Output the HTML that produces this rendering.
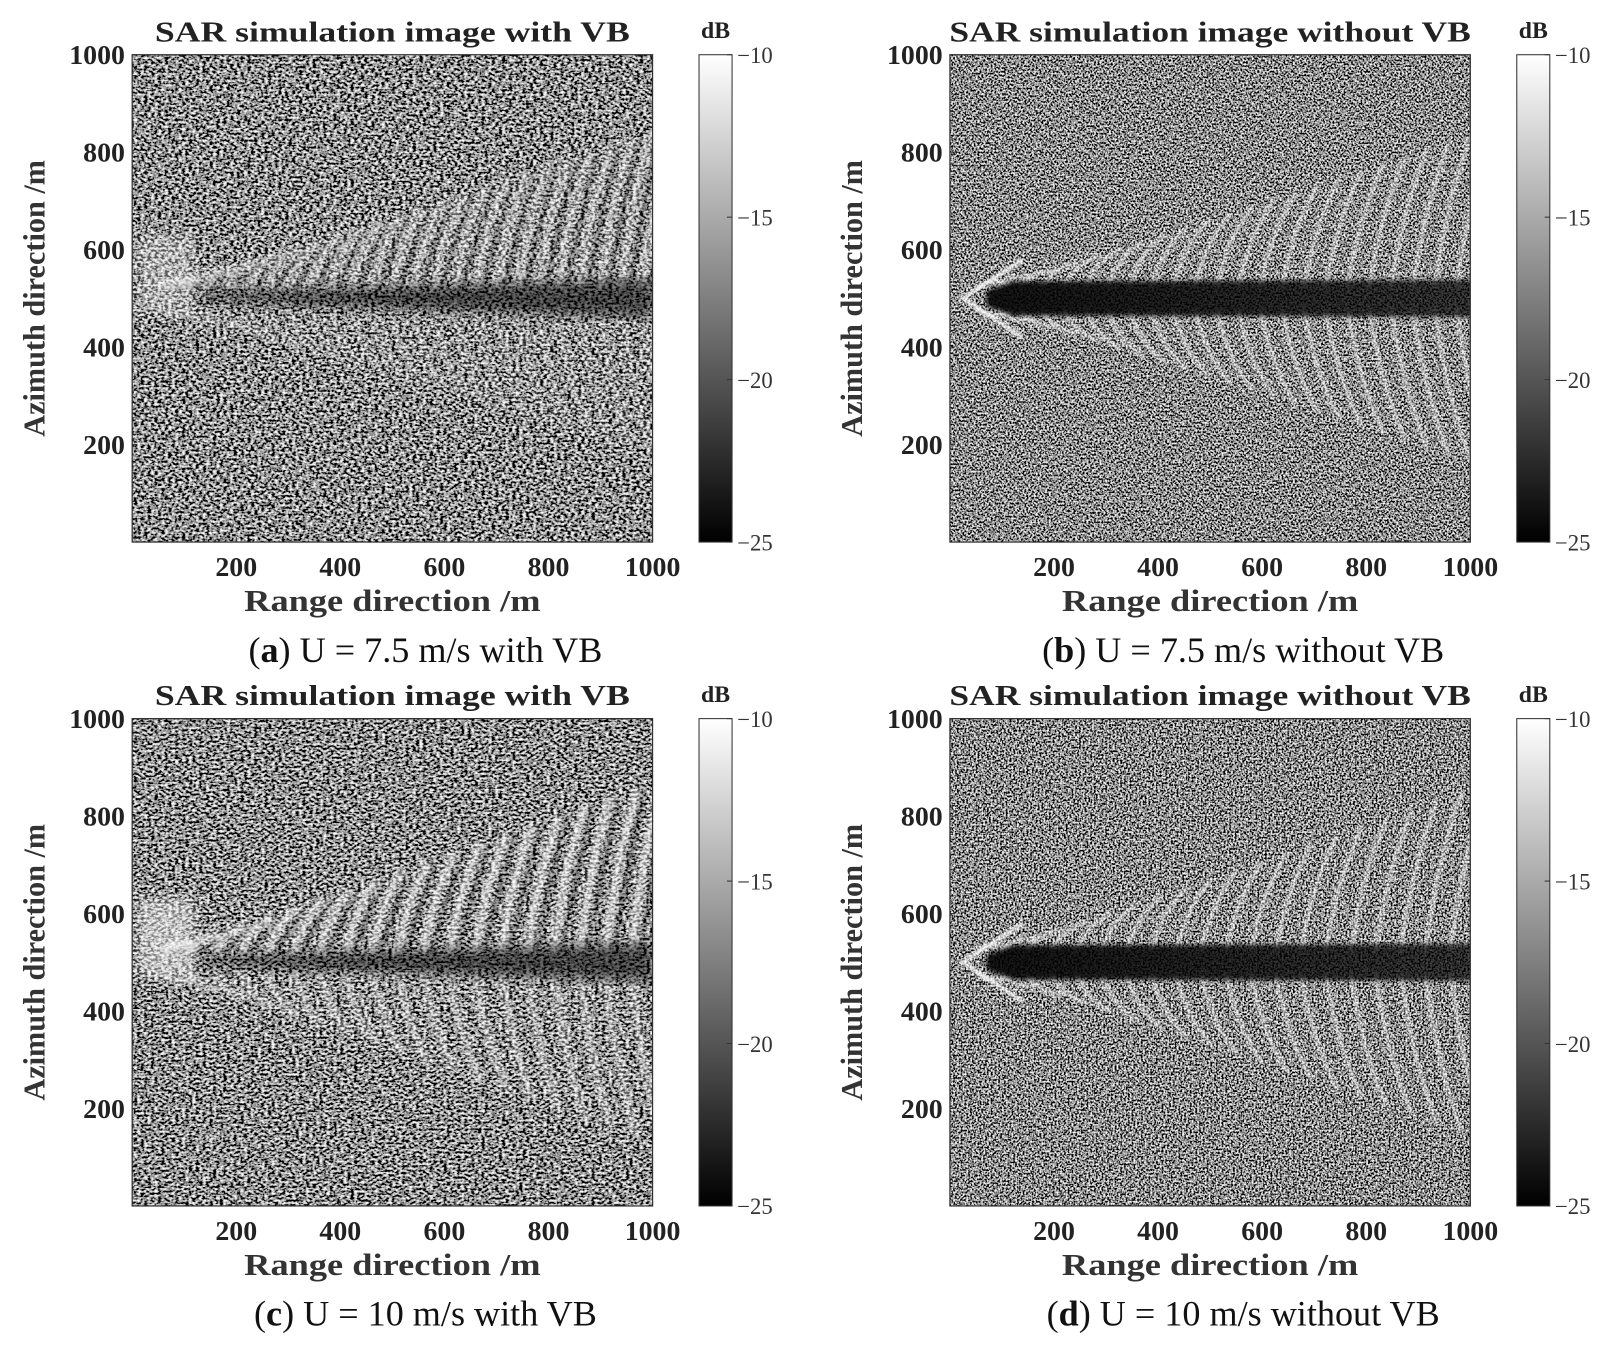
<!DOCTYPE html>
<html><head><meta charset="utf-8"><style>html,body{margin:0;padding:0;background:#fff}svg{display:block}</style></head>
<body>
<svg id="s" xmlns="http://www.w3.org/2000/svg" width="1619" height="1350" viewBox="0 0 1568 1307.5">
<defs>
<linearGradient id="cb" x1="0" y1="1" x2="0" y2="0"><stop offset="0" stop-color="#000"/><stop offset="1" stop-color="#fff"/></linearGradient>
<linearGradient id="bandg" x1="0" y1="0" x2="1" y2="0"><stop offset="0" stop-color="#000" stop-opacity="0.9"/><stop offset="1" stop-color="#000" stop-opacity="0.7"/></linearGradient>
<filter id="bl1" x="-10%" y="-10%" width="120%" height="120%"><feGaussianBlur stdDeviation="2.2"/></filter>
<filter id="bl2" x="-10%" y="-10%" width="120%" height="120%"><feGaussianBlur stdDeviation="1.2"/></filter>
<filter id="bl3" x="-10%" y="-10%" width="120%" height="120%"><feGaussianBlur stdDeviation="6"/></filter>
<filter id="bl4" x="-10%" y="-50%" width="120%" height="200%"><feGaussianBlur stdDeviation="2"/></filter>
</defs>
<g id="root" font-family="Liberation Serif, serif"></g>
</svg>
<script>
var NS="http://www.w3.org/2000/svg",root=document.getElementById('root'),defs=document.querySelector('defs');
function el(t,a,p){var e=document.createElementNS(NS,t);for(var k in a)e.setAttribute(k,a[k]);(p||root).appendChild(e);return e;}
function txt(s,a,p){var e=el('text',a,p);e.textContent=s;return e;}
var panels=[
 {ox:0,oy:0,t:'SAR simulation image with VB',tl:460,cap:['a',') U = 7.5 m/s with VB'],vb:true,amp:1,seed:3,ue:850,le:170},
 {ox:792,oy:0,t:'SAR simulation image without VB',tl:505,cap:['b',') U = 7.5 m/s without VB'],vb:false,amp:1,seed:7,ue:850,le:150},
 {ox:0,oy:643,t:'SAR simulation image with VB',tl:460,cap:['c',') U = 10 m/s with VB'],vb:true,amp:1.4,seed:11,ue:880,le:120},
 {ox:792,oy:643,t:'SAR simulation image without VB',tl:505,cap:['d',') U = 10 m/s without VB'],vb:false,amp:1.2,seed:17,ue:870,le:130}
];
panels.forEach(function(P,i){
 var L=128+P.ox,T=53+P.oy,W=504,H=472;
 function X(m){return L+m*W/1000;} function Y(m){return T+H-m*H/1000;}
 var f=el('filter',{id:'n'+i,filterUnits:'userSpaceOnUse',x:L,y:T,width:W,height:H},defs);
 el('feTurbulence',{type:'fractalNoise',baseFrequency:P.vb?'0.3 0.45':'0.55',numOctaves:'2',seed:P.seed},f);
 var k=P.vb?2.6:2.8, off=(0.3-k*0.5).toFixed(3);
 el('feColorMatrix',{type:'matrix',values:k+' 0 0 0 '+off+' '+k+' 0 0 0 '+off+' '+k+' 0 0 0 '+off+' 0 0 0 0 1'},f);
 var cp=el('clipPath',{id:'c'+i},defs);el('rect',{x:L,y:T,width:W,height:H},cp);
 var g=el('g',{'clip-path':'url(#c'+i+')'});
 el('rect',{x:L,y:T,width:W,height:H,fill:'#333'},g);
 el('rect',{x:L,y:T,width:W,height:H,filter:'url(#n'+i+')'},g);
 var sg=el('g',{filter:P.vb?'url(#bl1)':'url(#bl2)'},g);
 var x0=P.vb?40:30,step=P.vb?(P.amp>1?50:40):(P.amp>1?48:42);
 for(var xm=x0+20;xm<1000;xm+=step){
  var fr=xm/1000, ut=500+(P.ue-500)*Math.min(1,fr+0.03), lt=500-(500-P.le)*Math.min(1,fr+0.03);
  var dx=P.vb?60:70;
  var ou=P.vb?0.45*P.amp:0.5, ol=P.vb?0.3*P.amp:0.5;
  if(P.vb&&P.amp==1)ol=0.22;
  el('path',{d:'M'+X(xm)+' '+Y(520)+' Q'+X(xm+dx*0.3)+' '+Y((520+ut)/2+20)+' '+X(xm+dx)+' '+Y(ut),stroke:'#fff','stroke-opacity':Math.min(ou,0.8),'stroke-width':P.vb?7:4,fill:'none'},sg);
  el('path',{d:'M'+X(xm)+' '+Y(480)+' Q'+X(xm+dx*0.3)+' '+Y((480+lt)/2-20)+' '+X(xm+dx)+' '+Y(lt),stroke:'#fff','stroke-opacity':Math.min(ol,0.8),'stroke-width':P.vb?7:4,fill:'none'},sg);
  if(P.vb){
   el('path',{d:'M'+X(xm+12)+' '+Y(520)+' L'+X(xm+dx+12)+' '+Y(ut),stroke:'#000','stroke-opacity':0.35,'stroke-width':5,fill:'none'},sg);
  }
 }
 if(!P.vb){
  el('path',{d:'M'+X(140)+' '+Y(580)+' L'+X(25)+' '+Y(500)+' L'+X(140)+' '+Y(420),stroke:'#fff','stroke-opacity':0.8,'stroke-width':4,fill:'none'},sg);
  el('path',{d:'M'+X(70)+' '+Y(515)+' L'+X(120)+' '+Y(535)+' L'+X(1005)+' '+Y(538)+' L'+X(1005)+' '+Y(462)+' L'+X(120)+' '+Y(465)+' L'+X(70)+' '+Y(485)+' Z',fill:'url(#bandg)',filter:'url(#bl4)'},g);
 } else {
  el('rect',{x:X(10),y:Y(630),width:X(120)-X(10),height:Y(470)-Y(630),fill:'#fff',opacity:0.35*P.amp,filter:'url(#bl3)'},g);
  el('path',{d:'M'+X(130)+' '+Y(510)+' L'+X(1000)+' '+Y(540)+' L'+X(1000)+' '+Y(460)+' L'+X(130)+' '+Y(495)+' Z',fill:'#000',opacity:0.55,filter:'url(#bl3)'},g);
 }
 el('rect',{x:L,y:T,width:W,height:H,fill:'none',stroke:'#333','stroke-width':1.2});
 var tf={'font-size':27,'font-weight':'bold',fill:'#222'};
 [200,400,600,800,1000].forEach(function(v){
  el('line',{x1:X(v),y1:T+H,x2:X(v),y2:T+H-5,stroke:'#333'});
  el('line',{x1:L,y1:Y(v),x2:L+5,y2:Y(v),stroke:'#333'});
  var a=Object.assign({x:X(v),y:T+H+33,'text-anchor':'middle'},tf);txt(''+v,a);
  var b=Object.assign({x:L-7,y:Y(v)+9,'text-anchor':'end'},tf);txt(''+v,b);
 });
 txt(P.t,{x:L+W/2,y:T-13,'text-anchor':'middle','font-size':28,'font-weight':'bold',fill:'#222',textLength:P.tl,lengthAdjust:'spacingAndGlyphs'});
 txt('Range direction /m',{x:L+W/2,y:T+H+67,'text-anchor':'middle','font-size':30,'font-weight':'bold',fill:'#333',textLength:287,lengthAdjust:'spacingAndGlyphs'});
 txt('Azimuth direction /m',{x:0,y:0,'text-anchor':'middle','font-size':30,'font-weight':'bold',fill:'#333',textLength:268,lengthAdjust:'spacingAndGlyphs',transform:'translate('+(L-85)+','+(T+H/2)+') rotate(-90)'});
 var cx=L+549;
 el('rect',{x:cx,y:T,width:32,height:H,fill:'url(#cb)',stroke:'#333','stroke-width':1});
 txt('dB',{x:cx+16,y:T-16,'text-anchor':'middle','font-size':23,'font-weight':'bold',fill:'#222'});
 [-10,-15,-20,-25].forEach(function(v,k){
  var yy=T+k*H/3;
  el('line',{x1:cx+32,y1:yy,x2:cx+27,y2:yy,stroke:'#333'});
  txt('\u2212'+(-v),{x:cx+37,y:yy+8,'font-size':22,fill:'#333'});
 });
 var c=txt('(',{x:L+W/2+32,y:T+H+116,'text-anchor':'middle','font-size':35,fill:'#111'});
 var b=document.createElementNS(NS,'tspan');b.setAttribute('font-weight','bold');b.textContent=P.cap[0];c.appendChild(b);
 var r=document.createElementNS(NS,'tspan');r.textContent=P.cap[1];c.appendChild(r);
});
</script>
</body></html>
